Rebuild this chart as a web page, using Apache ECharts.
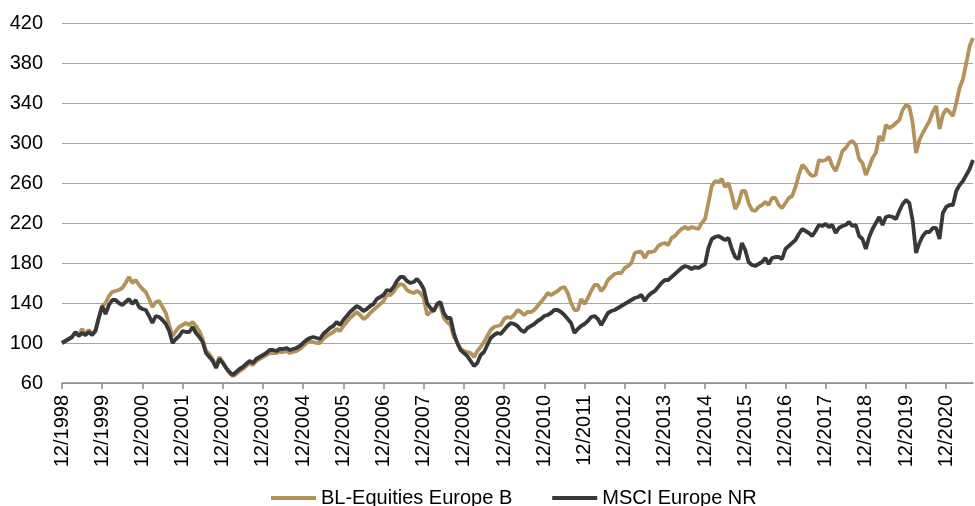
<!DOCTYPE html>
<html>
<head>
<meta charset="utf-8">
<script src="https://cdn.jsdelivr.net/npm/echarts@6/dist/echarts.min.js"></script>
<style>
    html, body { margin: 0; padding: 0; background: #fff; }
    #chart { width: 975px; height: 506px; }
</style>
</head>
<body>
<div id="chart"></div>
<script type="text/javascript">

    // monthly values, 12/1998 = 100
    var startYear = 1998, startMonth = 12;

    var blEquities = [
        100, 102, 104, 106, 110, 108, 114, 109, 113, 109, 113, 126,
        137, 140, 147, 151, 152, 153, 155, 160, 166, 160, 163, 158,
        154, 151, 144, 136, 141, 142, 136, 130, 118, 107, 112, 116,
        118, 120, 118, 121, 117, 112, 104, 92, 89, 84, 77, 86,
        81, 75, 70, 67, 69, 72, 74, 77, 80, 78, 82, 84,
        86, 88, 90, 90, 90, 91, 91, 92, 90, 91, 92, 94,
        97, 100, 102, 101, 100, 100, 104, 107, 109, 111, 114, 112,
        117, 121, 125, 128, 131, 128, 124, 126, 130, 133, 136, 139,
        142, 148, 148, 151, 156, 159, 158, 153, 151, 150, 152, 150,
        145, 128, 131, 132, 138, 137, 125, 121, 118, 106, 101, 94,
        92, 91, 90, 86, 92, 96, 101, 107, 113, 116, 117, 118,
        124, 126, 125, 128, 133, 131, 128, 131, 131, 133, 137, 141,
        145, 150, 148, 150, 152, 155, 156, 150, 140, 133, 133, 144,
        139, 145, 152, 158, 158, 152, 156, 163, 166, 169, 170, 170,
        175, 177, 180, 190, 191, 191, 185, 191, 191, 192, 197, 199,
        200, 198, 205, 207, 211, 214, 216, 214, 216, 215, 214, 220,
        224, 240, 257, 262, 261, 264, 256, 260, 248, 234, 240, 252,
        252, 240, 233, 232, 236, 238, 241, 238, 245, 245, 238, 235,
        240, 245, 247, 256, 268, 278, 275, 270, 267, 268, 283, 282,
        283, 286, 277, 272, 281, 292, 295, 300, 302, 298, 284, 280,
        268, 276, 285, 290, 307, 302, 318, 315, 317, 320, 323, 333,
        338, 336, 320, 290, 303, 310, 316, 322, 331, 337, 314, 328,
        334, 331, 327, 340, 355, 364, 380, 397, 405
    ];

    var msciEurope = [
        100, 102, 104, 106, 111, 107, 110, 108, 111, 108, 112, 125,
        137, 129, 138, 143, 143, 140, 138, 141, 144, 139, 143, 136,
        134, 133, 127, 120, 127, 126, 123, 119, 112, 100, 104, 107,
        112, 111, 111, 116, 110, 106, 101, 90, 86, 82, 75, 84,
        80, 75, 71, 68, 71, 74, 76, 79, 82, 80, 84, 86,
        88, 90, 93, 93, 92, 94, 94, 95, 93, 94, 95, 97,
        100, 103, 105, 106, 105, 104, 109, 112, 115, 117, 121, 118,
        123, 127, 131, 134, 137, 135, 132, 134, 137, 139, 144, 146,
        148, 153, 152, 156, 162, 166, 166, 162, 160, 161, 164, 160,
        154, 140, 135, 132, 139, 141, 130, 125, 125, 110, 100, 93,
        90, 87, 82, 77, 80, 88, 91, 98, 105, 108, 110, 109,
        113, 117, 120, 119, 117, 113, 111, 115, 117, 119, 122, 124,
        127, 128, 130, 133, 133, 131, 128, 124, 120, 110, 114, 117,
        119, 122, 126, 127, 124, 118, 124, 130, 132, 133, 135, 137,
        139, 141, 143, 145, 146, 148, 142, 147, 150, 152, 156, 160,
        163, 163, 166, 169, 172, 175, 177, 176, 174, 176, 175, 177,
        179, 195, 204, 206, 207, 205, 203, 205, 194, 186, 184, 200,
        193, 181, 178, 177, 179, 181, 185, 179, 185, 186, 186, 184,
        194, 197, 200, 203, 209, 214, 212, 210, 207, 212, 218, 217,
        219, 216, 218, 210, 215, 217, 218, 221, 217, 218, 207, 204,
        194, 206, 214, 220, 226, 218, 226, 227, 226, 224, 232, 239,
        243, 240, 222, 190, 200, 207, 211, 211, 215, 215, 204, 230,
        236, 238, 238, 252, 258, 262, 268, 274, 283
    ];

    var seriesNames = ['BL-Equities Europe B', 'MSCI Europe NR'];

    // x axis categories: MM/YYYY
    var months = [];
    for (var i = 0; i < blEquities.length; i++) {
        var mm = (startMonth - 1 + i) % 12 + 1;
        var yy = startYear + Math.floor((startMonth - 1 + i) / 12);
        months.push(mm + '/' + yy);
    }

    function yearEnd(index) {
        return index % 12 === 0;
    }

    var fontName = 'Liberation Sans, Arial, sans-serif';

    var chart = echarts.init(document.getElementById('chart'));

    var option = {
        animation: false,
        color: ['#b5925b', '#383838'],
        textStyle: {
            fontFamily: fontName
        },
        grid: {
            left: 62,
            right: 2,
            top: 23,
            bottom: 123
        },
        legend: {
            left: 266,
            top: 483,
            icon: 'rect',
            itemWidth: 45,
            itemHeight: 4,
            itemGap: 40,
            textStyle: {
                fontSize: 20,
                color: '#000',
                fontFamily: fontName
            },
            data: seriesNames
        },
        xAxis: {
            type: 'category',
            boundaryGap: false,
            data: months,
            axisLine: {
                lineStyle: { color: '#8c8c8c', width: 1.5 }
            },
            axisTick: {
                show: true,
                interval: function (index) { return yearEnd(index); },
                length: 6,
                lineStyle: { color: '#8c8c8c', width: 1.5 }
            },
            axisLabel: {
                interval: function (index) { return yearEnd(index); },
                rotate: 90,
                margin: 12,
                fontSize: 20,
                color: '#000',
                fontFamily: fontName
            },
            splitLine: { show: false }
        },
        yAxis: {
            type: 'value',
            min: 60,
            max: 420,
            interval: 40,
            axisLine: { show: false },
            axisTick: { show: false },
            axisLabel: {
                margin: 19,
                fontSize: 20,
                color: '#000',
                fontFamily: fontName
            },
            splitLine: {
                lineStyle: { color: '#a6a6a6', width: 1.2 }
            }
        },
        series: [
            {
                name: seriesNames[0],
                type: 'line',
                data: blEquities,
                showSymbol: false,
                symbol: 'none',
                lineStyle: { width: 3.8 }
            },
            {
                name: seriesNames[1],
                type: 'line',
                data: msciEurope,
                showSymbol: false,
                symbol: 'none',
                lineStyle: { width: 3.8 }
            }
        ]
    };

    chart.setOption(option);

</script>
</body>
</html>
